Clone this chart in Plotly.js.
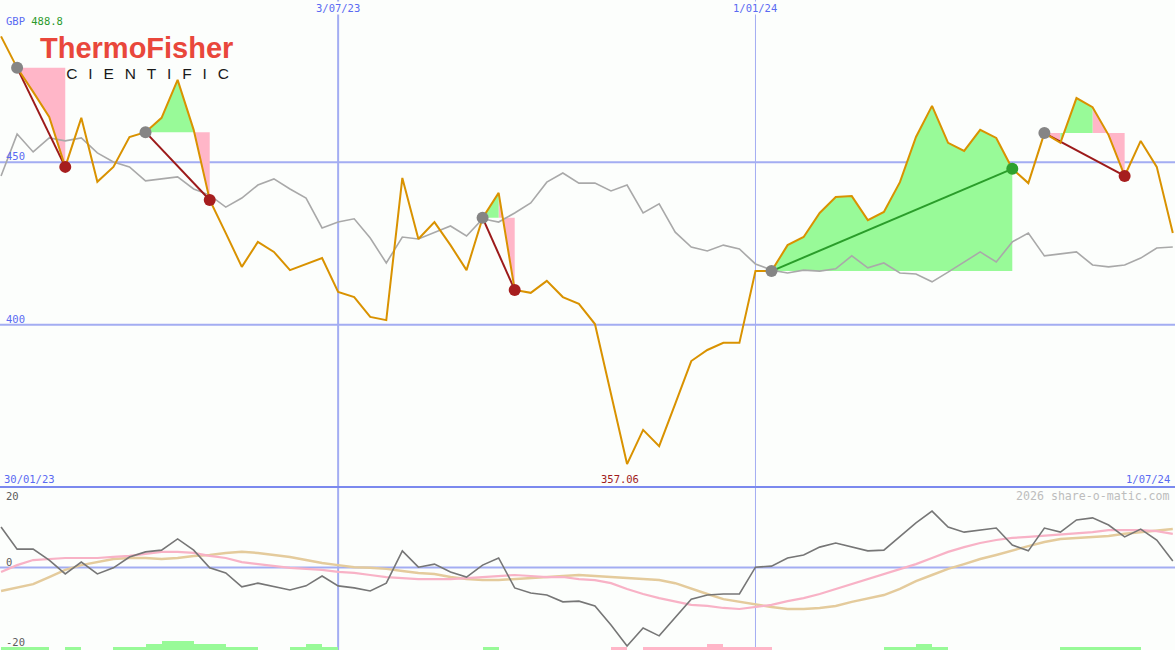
<!DOCTYPE html>
<html><head><meta charset="utf-8">
<script src="https://cdn.plot.ly/plotly-3.0.1.min.js"></script>
<style>html,body{margin:0;padding:0;background:#fcfefc;}#chart{width:1175px;height:650px;}</style>
</head><body><div id="chart"></div>
<script>
// weekly dates
const dates = ['2023-02-06','2023-02-13','2023-02-20','2023-02-27','2023-03-06','2023-03-13','2023-03-20','2023-03-27',
'2023-04-03','2023-04-10','2023-04-17','2023-04-24','2023-05-01','2023-05-08','2023-05-15','2023-05-22','2023-05-29',
'2023-06-05','2023-06-12','2023-06-19','2023-06-26','2023-07-03','2023-07-10','2023-07-17','2023-07-24','2023-07-31',
'2023-08-07','2023-08-14','2023-08-21','2023-08-28','2023-09-04','2023-09-11','2023-09-18','2023-09-25','2023-10-02',
'2023-10-09','2023-10-16','2023-10-23','2023-10-30','2023-11-06','2023-11-13','2023-11-20','2023-11-27','2023-12-04',
'2023-12-11','2023-12-18','2023-12-25','2024-01-01','2024-01-08','2024-01-15','2024-01-22','2024-01-29','2024-02-05',
'2024-02-12','2024-02-19','2024-02-26','2024-03-04','2024-03-11','2024-03-18','2024-03-25','2024-04-01','2024-04-08',
'2024-04-15','2024-04-22','2024-04-29','2024-05-06','2024-05-13','2024-05-20','2024-05-27','2024-06-03','2024-06-10',
'2024-06-17','2024-06-24','2024-07-01'];
// share price (GBP)
const price = [488.8,479.1,471.7,464.0,448.6,463.7,444.0,448.6,457.8,459.3,463.7,475.4,460.0,438.4,428.2,417.8,425.5,
422.4,416.8,418.7,420.5,410.1,408.5,402.4,401.4,445.2,426.4,431.6,424.5,416.8,432.9,440.6,410.7,409.8,413.5,408.5,
406.4,400.2,378.7,357.06,367.6,362.6,375.6,388.8,392.2,394.4,394.4,416.5,416.5,424.5,427.0,434.4,439.3,439.6,432.2,
434.7,443.9,457.8,467.4,456.0,453.5,460.0,457.5,448.0,443.6,459.0,456.0,469.8,467.0,458.4,445.8,456.6,448.6,428.2];
// comparison index (scaled onto price axis)
const compare = [445.8,458.7,453.2,457.5,456.6,457.5,452.9,450.1,448.6,444.3,444.9,445.5,441.8,439.9,436.2,439.0,443.0,
444.9,441.8,439.0,429.8,431.6,432.6,426.7,419.0,427.0,426.4,428.5,430.4,427.3,432.6,431.6,434.4,437.5,443.9,446.7,
443.6,443.6,441.2,443.0,434.4,437.2,428.5,423.9,422.7,424.5,423.3,418.7,416.8,415.9,416.8,416.5,417.2,421.2,417.5,
419.0,415.9,415.6,413.2,416.2,419.3,422.4,419.3,425.5,428.2,421.2,421.8,422.4,418.4,417.8,418.4,420.5,423.6,423.9];
// lower panel oscillator lines
const osc = [11.9,5.4,5.4,2.2,-1.9,1.6,-1.9,-0.1,3.1,4.6,5.1,8.4,5.1,-0.1,-1.6,-5.7,-4.6,-5.7,-6.6,-5.4,-2.5,-5.4,
-6.0,-6.9,-4.6,4.9,0.1,1.0,-1.3,-2.8,0.7,2.8,-6.0,-7.5,-8.1,-10.1,-9.9,-11.3,-16.9,-23.1,-17.8,-20.1,-14.6,-9.3,-8.1,
-7.8,-7.8,0.1,0.4,2.8,3.7,6.0,7.2,6.0,4.9,5.1,9.0,13.1,16.6,11.9,10.4,11.0,11.6,6.6,4.9,11.6,10.4,14.0,14.6,12.5,9.0,
11.3,8.1,1.9];
const oscFast = [-1.3,0.7,2.2,2.5,2.8,2.8,2.8,3.1,3.4,4.0,4.6,4.6,4.3,3.4,2.8,1.6,1.0,0.4,-0.1,-0.4,-0.7,-1.3,-1.6,
-2.2,-2.8,-3.1,-3.4,-3.4,-3.4,-3.1,-2.8,-2.5,-2.2,-2.5,-2.8,-2.8,-3.4,-3.7,-4.6,-6.3,-7.8,-9.0,-10.1,-11.0,-11.3,
-11.9,-12.2,-11.6,-11.0,-9.9,-9.0,-7.8,-6.3,-4.9,-3.4,-1.9,-0.4,1.0,2.8,4.6,6.0,7.2,8.1,8.7,9.0,9.3,9.6,10.1,10.4,
11.0,11.0,11.0,10.7,9.9];
const oscSlow = [-6.9,-6.0,-4.9,-2.8,-0.7,0.7,1.6,2.5,2.8,2.8,2.5,2.8,3.4,3.7,4.3,4.6,4.3,3.7,3.1,2.2,1.3,0.7,0.1,
-0.1,-0.4,-1.0,-1.6,-1.9,-2.8,-3.4,-3.7,-3.7,-3.4,-3.1,-2.8,-2.5,-2.2,-2.5,-2.8,-3.1,-3.4,-3.7,-4.6,-6.3,-7.8,-9.3,
-10.1,-11.0,-11.6,-12.2,-12.2,-11.9,-11.3,-10.1,-9.0,-8.1,-6.3,-4.0,-2.2,-0.4,1.0,2.5,3.7,5.1,6.3,7.5,8.4,8.7,9.0,
9.3,9.9,10.4,11.0,11.3];
// weekly signal strength (interval starting at each date; + green, - pink)
const barLevel = [1,1,1,0,1,0,0,1,1,2,3,3,2,2,1,1,0,0,1,2,1,0,0,0,0,0,0,0,0,0,1,0,0,0,0,0,0,0,-1,0,-1,-1,-1,-1,-2,
-1,-1,-1,0,0,0,0,0,0,0,1,1,2,1,0,0,0,0,0,0,0,1,1,1,1,1,0,0,0];
// trades
const tradeEntry = ['2023-02-13','2023-04-10','2023-09-04','2024-01-08','2024-05-06'];
const tradeExit  = ['2023-03-06','2023-05-08','2023-09-18','2024-04-22','2024-06-10'];
// labels
const markerDates = ['2023-07-03','2024-01-01'];
const markerLabels = ['3/07/23','1/01/24'];
const startLabel = '30/01/23', endLabel = '1/07/24';
const priceTicks = [400,450];
const oscTicks = [20,0,-20];

const BG = '#fcfefc', BLUE = '#a3adf2', MONO = 'DejaVu Sans Mono, monospace';
const DAY = 86400000;

const traces = [];
// bars
const bx=[], by=[], bc=[];
barLevel.forEach((v,i)=>{ if(v!==0){ bx.push(new Date(dates[i]).getTime()+3.5*DAY); by.push(Math.abs(v)); bc.push(v>0?'#98fa98':'#ffb6c8'); }});
traces.push({type:'bar', x:bx, y:by, width:7*DAY, marker:{color:bc, line:{width:0}}, xaxis:'x', yaxis:'y3', hoverinfo:'skip'});

// trade fills
const gX=[],gY=[],pX=[],pY=[];
const lossX=[],lossY=[],winX=[],winY=[];
const enX=[],enY=[],exX=[],exY=[],exC=[];
tradeEntry.forEach((d,t)=>{
  const e=dates.indexOf(d), x=dates.indexOf(tradeExit[t]); const E=price[e];
  for(let k=e;k<x;k++){
    const up = price[k+1]>=E;
    const X= up?gX:pX, Y= up?gY:pY;
    X.push(dates[k],dates[k],dates[k+1],dates[k+1],dates[k],null);
    Y.push(E,price[k],price[k+1],E,E,null);
  }
  const win = price[x]>E;
  (win?winX:lossX).push(dates[e],dates[x],null);
  (win?winY:lossY).push(E,price[x],null);
  enX.push(dates[e]); enY.push(E);
  exX.push(dates[x]); exY.push(price[x]); exC.push(win?'#2ea12e':'#a61e1e');
});
traces.push({type:'scatter',mode:'lines',x:pX,y:pY,fill:'toself',fillcolor:'#ffb6c8',line:{width:0},hoverinfo:'skip'});
traces.push({type:'scatter',mode:'lines',x:gX,y:gY,fill:'toself',fillcolor:'#98fa98',line:{width:0},hoverinfo:'skip'});
traces.push({type:'scatter',mode:'lines',x:dates,y:compare,line:{color:'#a9a9a9',width:1.6}});
traces.push({type:'scatter',mode:'lines',x:lossX,y:lossY,line:{color:'#9c1a1a',width:2}});
traces.push({type:'scatter',mode:'lines',x:winX,y:winY,line:{color:'#2a9d2a',width:2}});
traces.push({type:'scatter',mode:'lines',x:dates,y:price,line:{color:'#d99200',width:2}});
traces.push({type:'scatter',mode:'markers',x:enX,y:enY,marker:{color:'#858585',size:12}});
traces.push({type:'scatter',mode:'markers',x:exX,y:exY,marker:{color:exC,size:12}});
// lower panel
traces.push({type:'scatter',mode:'lines',x:dates,y:oscSlow,yaxis:'y2',line:{color:'#e4cb9c',width:2.5}});
traces.push({type:'scatter',mode:'lines',x:dates,y:oscFast,yaxis:'y2',line:{color:'#f8b2c6',width:2.2}});
traces.push({type:'scatter',mode:'lines',x:dates,y:osc,yaxis:'y2',line:{color:'#767676',width:1.6}});

const split = 163/650;
const shapes = [];
priceTicks.forEach(v=>shapes.push({type:'line',layer:'below',xref:'paper',x0:0,x1:1,yref:'y',y0:v,y1:v,line:{color:BLUE,width:2}}));
shapes.push({type:'line',layer:'below',xref:'paper',x0:0,x1:1,yref:'y2',y0:0,y1:0,line:{color:BLUE,width:2}});
markerDates.forEach((d,i)=>shapes.push({type:'line',layer:'below',xref:'x',x0:d,x1:d,yref:'paper',y0:0,y1:1,line:{color:BLUE,width:i===0?2:1}}));
shapes.push({type:'line',layer:'below',xref:'paper',x0:0,x1:1,yref:'paper',y0:split,y1:split,line:{color:'#7b89ee',width:2}});
// logo second line (drawn beneath the data)
shapes.push({type:'rect',layer:'below',xref:'paper',yref:'paper',x0:32/1175,x1:242/1175,y0:1-80/650,y1:1-64/650,
  line:{width:0},fillcolor:'rgba(0,0,0,0)',
  label:{text:'S\u2002C\u2002I\u2002E\u2002N\u2002T\u2002I\u2002F\u2002I\u2002C'.split('\u2002').join('\u2002\u2009'),textposition:'middle center',font:{family:'Liberation Sans, Arial, sans-serif',size:15.5,color:'#1a1a1a'}}});

const maxV = Math.max(...price), minV = Math.min(...price);
const minDate = dates[price.indexOf(minV)];
const ann = [];
const A = (o)=>ann.push(Object.assign({showarrow:false, font:{family:MONO,size:10.5,color:'#5a6af2'}},o));
A({xref:'paper',yref:'paper',x:136/1175,y:1-48/650,xanchor:'center',yanchor:'middle',text:'<b>ThermoFisher</b>',
   font:{family:'Liberation Sans, Arial, sans-serif',size:29,color:'#e9473b'}});
A({xref:'paper',yref:'paper',x:4/1175,y:1-21/650,xanchor:'left',yanchor:'middle',
   text:'<span style="color:#5a6af2">GBP</span> <span style="color:#2c9a2c">'+maxV.toFixed(1)+'</span>'});
markerDates.forEach((d,i)=>A({xref:'x',yref:'paper',x:d,y:1-8/650,xanchor:'center',yanchor:'middle',text:markerLabels[i],bgcolor:BG,borderpad:0}));
A({xref:'paper',yref:'paper',x:2/1175,y:1-479/650,xanchor:'left',yanchor:'middle',text:startLabel});
A({xref:'paper',yref:'paper',x:1172/1175,y:1-479/650,xanchor:'right',yanchor:'middle',text:endLabel});
A({xref:'x',yref:'paper',x:minDate,xshift:-7,y:1-479/650,xanchor:'center',yanchor:'middle',text:minV.toFixed(2),font:{family:MONO,size:10.5,color:'#a01c1c'}});
priceTicks.forEach(v=>A({xref:'paper',yref:'y',x:4/1175,y:v,yshift:6,xanchor:'left',yanchor:'middle',text:String(v)}));
const oscShift = {'20':4,'0':5.5,'-20':-6.5};
oscTicks.forEach(v=>A({xref:'paper',yref:'y2',x:4/1175,y:v,yshift:oscShift[String(v)],xanchor:'left',yanchor:'middle',text:String(v),font:{family:MONO,size:10.5,color:'#5c5c5c'}}));
A({xref:'paper',yref:'paper',x:1172/1175,y:1-496/650,xanchor:'right',yanchor:'middle',text:'2026 share-o-matic.com',font:{family:MONO,size:11.6,color:'#bdbdbd'}});

const layout = {
  width:1175,height:650,margin:{l:0,r:0,t:0,b:0},
  paper_bgcolor:BG,plot_bgcolor:BG,showlegend:false,
  xaxis:{type:'date',range:['2023-02-05 13:00','2024-07-01 23:00'],visible:false,fixedrange:true},
  yaxis:{domain:[split,1],range:[350,500],visible:false,fixedrange:true},
  yaxis2:{domain:[0,split],range:[-24.26,23.68],visible:false,fixedrange:true},
  yaxis3:{overlaying:'y2',range:[0,163/3],visible:false,fixedrange:true},
  shapes:shapes,annotations:ann,bargap:0
};
Plotly.newPlot('chart',traces,layout,{staticPlot:true,displayModeBar:false});
</script></body></html>
